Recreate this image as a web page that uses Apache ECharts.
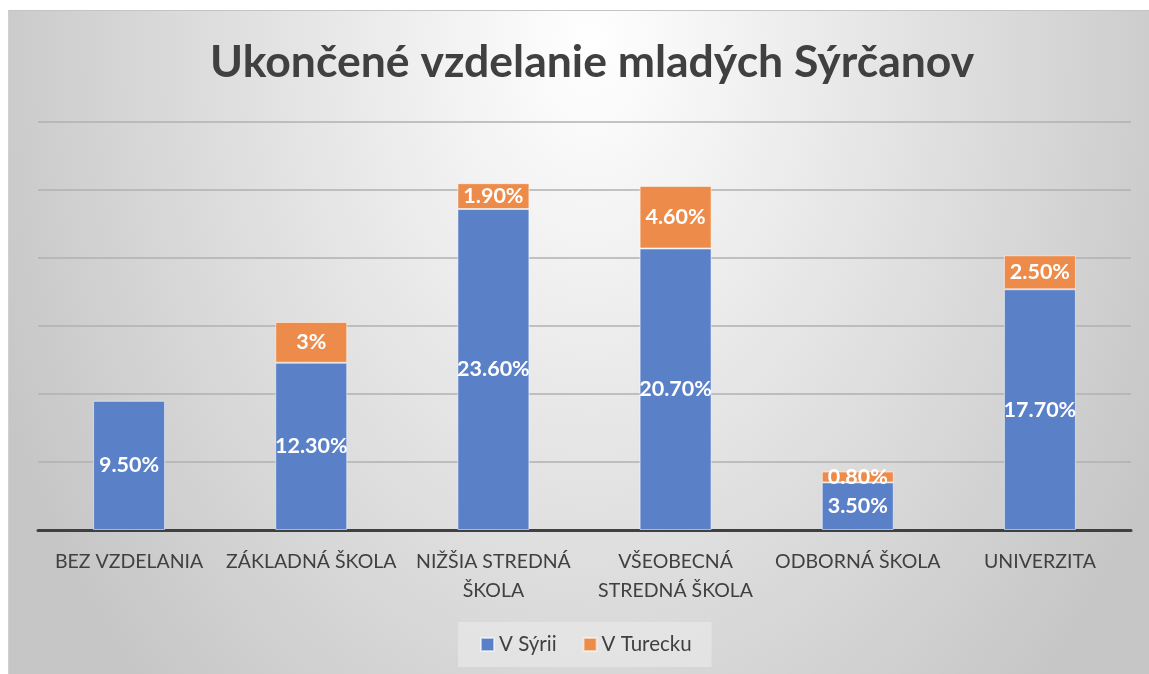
<!DOCTYPE html>
<html>
<head>
<meta charset="utf-8">
<script src="https://cdn.jsdelivr.net/npm/echarts@6/dist/echarts.min.js"></script>
<style>
  html, body { margin: 0; padding: 0; background: #ffffff; }
  #bg { position: absolute; left: 8px; top: 10px; width: 1141px; height: 664px;
        border-top: 1px solid #c4c4c4; border-left: 1px solid #d0d0d0;
        background: radial-gradient(ellipse 640px 900px at 51% 5%, #ffffff 0%, #c6c6c6 100%); }
  #chart { position: absolute; left: 0; top: 0; width: 1149px; height: 674px; }
</style>
</head>
<body>
<div id="bg"></div>
<div id="chart"></div>
<script>
const titleText = 'Ukončené vzdelanie mladých Sýrčanov';
const categories = ['BEZ VZDELANIA', 'ZÁKLADNÁ ŠKOLA', 'NIŽŠIA STREDNÁ\nŠKOLA', 'VŠEOBECNÁ\nSTREDNÁ ŠKOLA', 'ODBORNÁ ŠKOLA', 'UNIVERZITA'];
const seriesNames = ['V Sýrii', 'V Turecku'];
const syria = [9.5, 12.3, 23.6, 20.7, 3.5, 17.7];
const turkey = [null, 3, 1.9, 4.6, 0.8, 2.5];

const fmt = function (p) {
  const v = p.value;
  if (v === null || v === undefined) return '';
  return (Number.isInteger(v) ? String(v) : v.toFixed(2)) + '%';
};
const FONT = 'Lato, "Open Sans", sans-serif';
const chart = echarts.init(document.getElementById('chart'), null, { renderer: 'canvas' });
chart.setOption({
  backgroundColor: 'transparent',
  animation: false,
  title: {
    text: titleText, left: 205, top: 35,
    textStyle: { fontFamily: FONT, fontSize: 44.5, fontWeight: 'bold', color: '#404040' }
  },
  legend: {
    bottom: 7, left: 458,
    itemWidth: 13, itemHeight: 13, itemGap: 26,
    icon: 'rect',
    backgroundColor: 'rgba(235,235,235,0.6)',
    padding: [12, 20, 12, 22],
    textStyle: { fontFamily: FONT, fontSize: 20.5, color: '#404040' }
  },
  grid: { left: 38, right: 18, top: 122, bottom: 144 },
  xAxis: {
    type: 'category', data: categories,
    axisLine: { lineStyle: { color: '#404040', width: 3 } },
    axisTick: { show: false },
    axisLabel: { fontFamily: FONT, fontSize: 19.5, color: '#404040', margin: 17, lineHeight: 29, interval: 0 }
  },
  yAxis: {
    type: 'value', min: 0, max: 30, interval: 5,
    axisLabel: { show: false }, axisLine: { show: false }, axisTick: { show: false },
    splitLine: { lineStyle: { color: '#b0b0b0', width: 1.5 } }
  },
  series: [
    {
      name: seriesNames[0], type: 'bar', stack: 'a', data: syria, barWidth: 72,
      itemStyle: { color: '#5a80c8', borderColor: 'rgba(255,255,255,0.55)', borderWidth: 1 },
      label: { show: true, position: 'inside', formatter: fmt, color: '#ffffff',
               fontFamily: FONT, fontWeight: 'bold', fontSize: 21.5 }
    },
    {
      name: seriesNames[1], type: 'bar', stack: 'a', data: turkey, barWidth: 72,
      itemStyle: { color: '#ec8b4a', borderColor: 'rgba(255,255,255,0.55)', borderWidth: 1 },
      label: { show: true, position: 'inside', formatter: fmt, color: '#ffffff',
               fontFamily: FONT, fontWeight: 'bold', fontSize: 21.5 }
    }
  ]
});
</script>
</body>
</html>
